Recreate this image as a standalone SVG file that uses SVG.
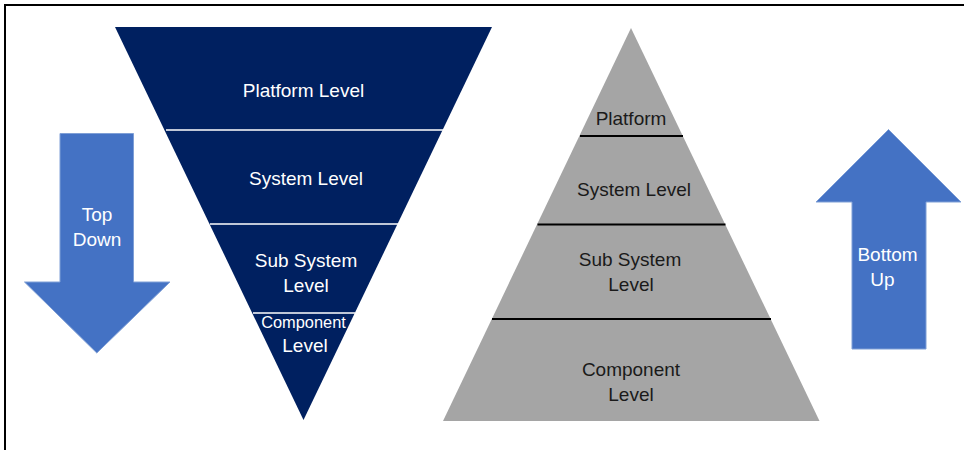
<svg xmlns="http://www.w3.org/2000/svg" width="964" height="450" viewBox="0 0 964 450">
  <style>
    .lbl { font-family: "Liberation Sans", Arial, sans-serif; font-size: 19px; text-anchor: middle; }
    .w { fill: #ffffff; }
    .k { fill: #1a1a1a; }
    .small { font-size: 16.4px; }
    .navy { fill: #002060; }
    .grey { fill: #a5a5a5; }
    .arrow { fill: #4472c4; stroke: #7f9fd6; stroke-width: 1; }
    .sepW { stroke: #ffffff; stroke-width: 1.6; }
    .sepK { stroke: #000000; stroke-width: 2.2; }
  </style>

  <rect width="964" height="450" fill="#ffffff"/>
  <!-- frame (top and left edges visible) -->
  <path d="M5 452 V5 H966" fill="none" stroke="#000000" stroke-width="2"/>

  <!-- Top-down funnel -->
  <g id="funnel">
    <polygon class="navy" points="115,27 492,27 303.5,420"/>
    <g id="connectors-funnel">
      <line class="sepW" x1="166" y1="130" x2="443" y2="130"/>
      <line class="sepW" x1="210" y1="224" x2="398" y2="224"/>
      <line class="sepW" x1="253" y1="313" x2="355" y2="313"/>
    </g>
  </g>
  <g id="td-platform"><text class="lbl w" x="303.5" y="97">Platform Level</text></g>
  <g id="td-system"><text class="lbl w" x="306" y="185">System Level</text></g>
  <g id="td-subsystem">
    <text class="lbl w" x="306" y="267">Sub System</text>
    <text class="lbl w" x="306" y="292">Level</text>
  </g>
  <g id="td-component">
    <text class="lbl w small" x="303.5" y="328">Component</text>
    <text class="lbl w" x="305" y="352">Level</text>
  </g>

  <!-- Bottom-up pyramid -->
  <g id="pyramid">
    <polygon class="grey" points="631,28 819.5,421 443,421"/>
    <g id="connectors-pyramid">
      <line class="sepK" x1="580" y1="136" x2="683" y2="136"/>
      <line class="sepK" x1="537.5" y1="224.5" x2="725.5" y2="224.5"/>
      <line class="sepK" x1="492" y1="319" x2="771" y2="319"/>
    </g>
  </g>
  <g id="bu-platform"><text class="lbl k" x="631" y="125">Platform</text></g>
  <g id="bu-system"><text class="lbl k" x="634" y="196">System Level</text></g>
  <g id="bu-subsystem">
    <text class="lbl k" x="630" y="266">Sub System</text>
    <text class="lbl k" x="631" y="291">Level</text>
  </g>
  <g id="bu-component">
    <text class="lbl k" x="631" y="376">Component</text>
    <text class="lbl k" x="631" y="401">Level</text>
  </g>

  <!-- Direction arrows -->
  <g id="top-down">
    <polygon class="arrow" points="60,133.5 133.5,133.5 133.5,282 170,282 96.8,353 24.5,282 60,282"/>
    <text class="lbl w" x="97" y="221">Top</text>
    <text class="lbl w" x="97" y="246">Down</text>
  </g>
  <g id="bottom-up">
    <polygon class="arrow" points="888.5,129.5 961,202 926,202 926,349 852,349 852,202 816,202"/>
    <text class="lbl w" x="887.5" y="261">Bottom</text>
    <text class="lbl w" x="882.5" y="286">Up</text>
  </g>
</svg>
